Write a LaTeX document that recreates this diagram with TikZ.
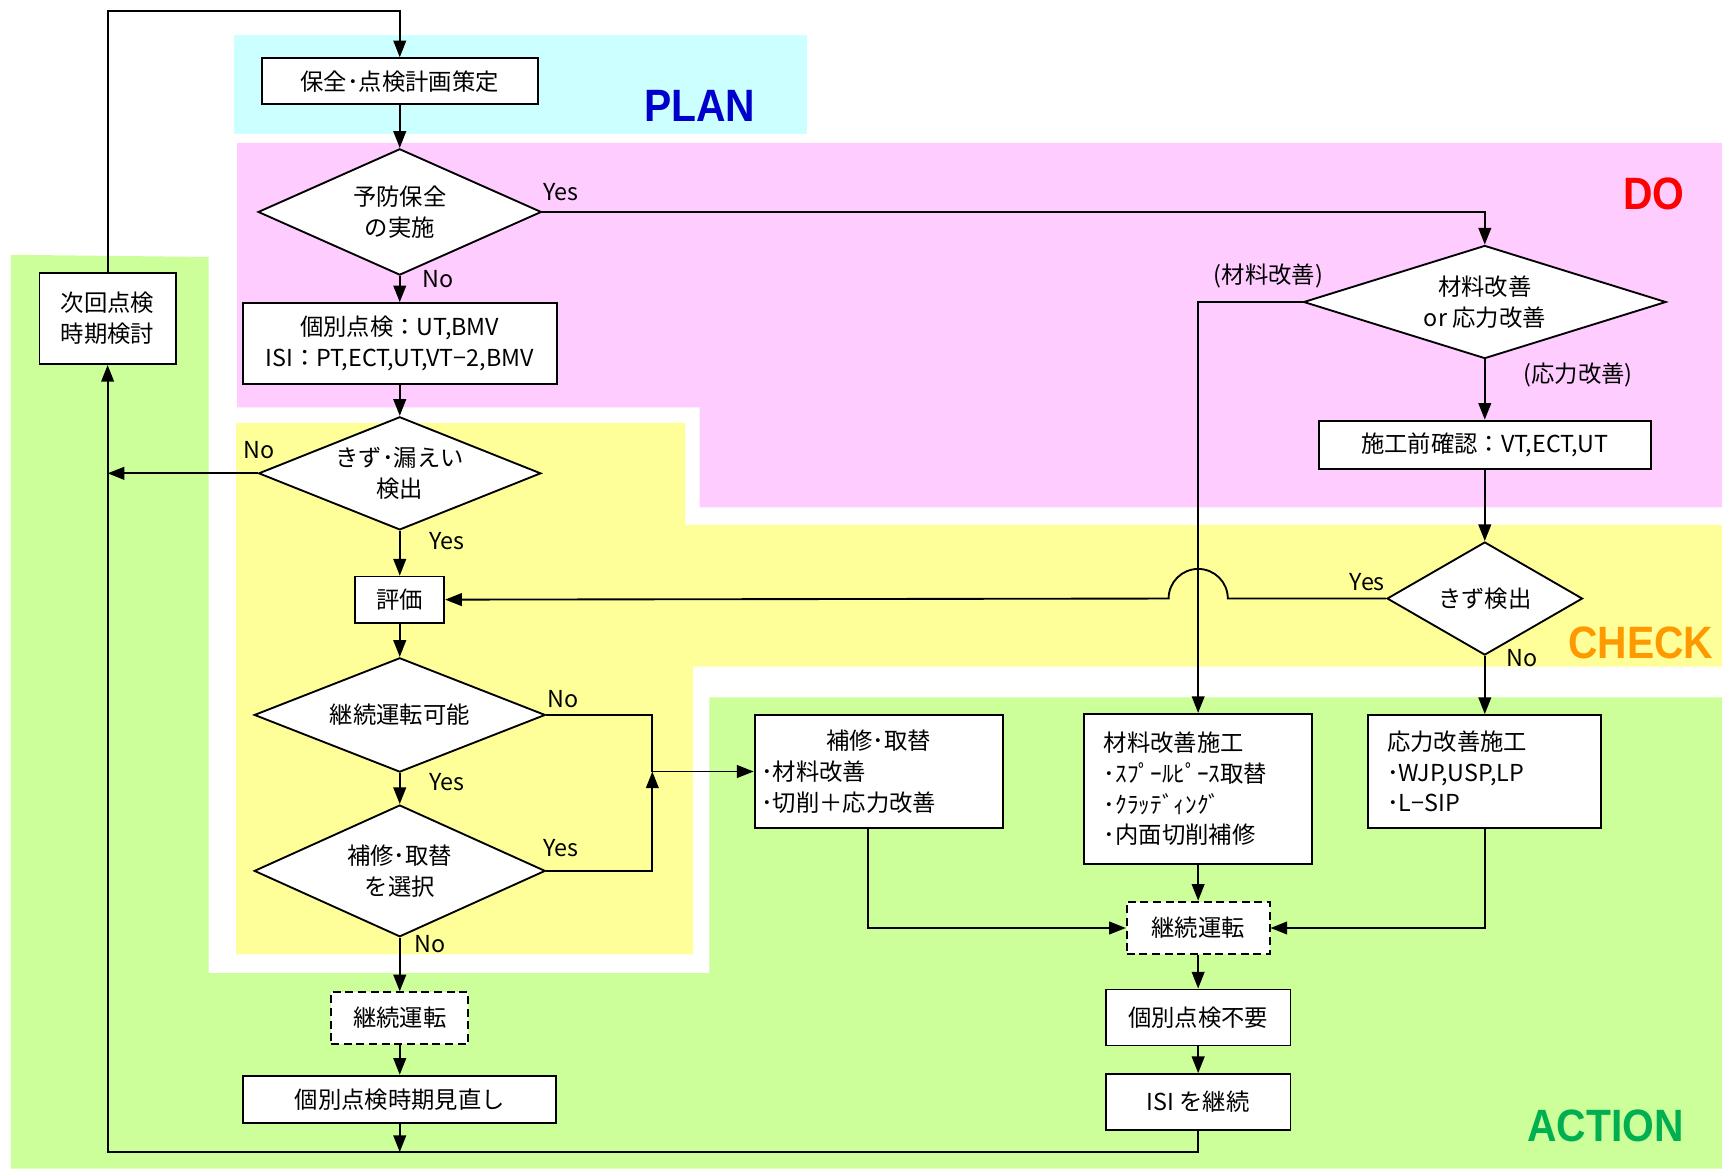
\documentclass[tikz,border=0pt]{standalone}
\usepackage{fontspec}
\setmainfont{Noto Sans CJK JP}
\newfontfamily\tagfont[FakeStretch=0.9]{Liberation Sans Bold}
\usetikzlibrary{arrows.meta,shapes.geometric,calc}

\definecolor{planbg}{HTML}{CCFFFF}
\definecolor{dobg}{HTML}{FFCCFF}
\definecolor{checkbg}{HTML}{FFFF99}
\definecolor{actbg}{HTML}{CCFF99}
\definecolor{plancol}{HTML}{0000CC}
\definecolor{docol}{HTML}{FF0000}
\definecolor{checkcol}{HTML}{FF9900}
\definecolor{actcol}{HTML}{00B050}

\tikzset{
  flow/.style={line width=1.4pt},
  arr/.style={flow,-{Triangle[length=12.5pt,width=9.5pt]}},
  box/.style={draw,line width=1.4pt,fill=white,inner sep=0pt,align=center},
  dbox/.style={box,dash pattern=on 6pt off 3.5pt},
  lbox/.style={box,align=left},
  dec/.style={draw,diamond,line width=1.4pt,fill=white,inner sep=0pt,align=center},
  yn/.style={inner sep=0pt},
  phase/.style={font=\tagfont\fontsize{34}{34}\selectfont,inner sep=0pt},
}

\begin{document}
\begin{tikzpicture}[x=0.8236pt,y=-0.8236pt,font=\fontsize{17.5}{23}\selectfont]
\path[use as bounding box,fill=white] (0,0) rectangle (1568,1064);

% phase areas
\fill[planbg] (213,32) rectangle (735,122);
\fill[dobg] (216,130) -- (1568,130) -- (1568,462) -- (637,462) -- (637,371) -- (216,371) -- cycle;
\fill[checkbg] (215,385) -- (624,385) -- (624,478) -- (1568,478) -- (1568,607) -- (631,607) -- (631,869) -- (215,869) -- cycle;
\fill[actbg] (10,232) -- (190,234) -- (190,886) -- (646,886) -- (646,635) -- (1568,635) -- (1568,1064) -- (10,1064) -- cycle;

\node[phase,text=plancol] (tplan) at (637,96) {PLAN};
\node[phase,text=docol] (tdo) at (1506,177) {DO};
\node[phase,text=checkcol] (tcheck) at (1494,585) {CHECK};
\node[phase,text=actcol] (tact) at (1462,1025) {ACTION};

% left column
\node[box,minimum width=206.7pt,minimum height=34.6pt] (planbox) at (364,74) {保全･点検計画策定};
\node[dec,aspect=2.2,minimum width=212.5pt,minimum height=94.7pt] (d1) at (364,193) {予防保全\\の実施};
\node[box,minimum width=235.5pt,minimum height=60.9pt] (kobetsu) at (364,313) {個別点検：UT,BMV\\ISI：PT,ECT,UT,VT−2,BMV};
\node[dec,aspect=2.5,minimum width=211.7pt,minimum height=84.8pt] (d4) at (364,431) {きず･漏えい\\検出};
\node[box,minimum width=66.7pt,minimum height=34.6pt] (hyouka) at (364,546) {評価};
\node[dec,aspect=3,minimum width=218.3pt,minimum height=85.7pt] (d5) at (364,651) {継続運転可能};
\node[dec,aspect=2.5,minimum width=218.3pt,minimum height=98.8pt] (d6) at (364,793) {補修･取替\\を選択};
\node[dbox,minimum width=103pt,minimum height=38.7pt] (keizoku1) at (364,927) {継続運転};
\node[box,minimum width=234.7pt,minimum height=35.4pt] (minaoshi) at (364,1001) {個別点検時期見直し};
\node[box,minimum width=102.1pt,minimum height=68.4pt] (jikai) at (98,290) {次回点検\\時期検討};

% right column
\node[dec,aspect=3.2,minimum width=271.8pt,minimum height=84.8pt] (d2) at (1352,275) {材料改善\\or 応力改善};
\node[box,minimum width=248.7pt,minimum height=36.2pt] (sekou) at (1352,405) {施工前確認：VT,ECT,UT};
\node[dec,aspect=2,minimum width=146.6pt,minimum height=84.8pt] (d3) at (1352,545) {きず検出};

% action boxes
\node[lbox,text width=176pt,inner xsep=5pt,minimum height=84.8pt] (shuri) at (800,702.5)
  {\makebox[\linewidth]{補修･取替}\\･材料改善\\･切削＋応力改善};
\node[lbox,text width=141.7pt,inner xsep=14.8pt,minimum height=112.8pt] (zairyo) at (1091,718.5)
  {材料改善施工\\･ｽﾌﾟｰﾙﾋﾟｰｽ取替\\･ｸﾗｯﾃﾞｨﾝｸﾞ\\･内面切削補修};
\node[lbox,text width=146.6pt,inner xsep=14pt,minimum height=84.8pt] (ouryoku) at (1352,702.5)
  {応力改善施工\\･WJP,USP,LP\\･L−SIP};
\node[dbox,minimum width=107.1pt,minimum height=39.5pt] (keizoku2) at (1091,845) {継続運転};
\node[box,minimum width=138.4pt,minimum height=42pt] (fuyou) at (1091,926.5) {個別点検不要};
\node[box,minimum width=138.4pt,minimum height=42pt] (isi) at (1091,1003.5) {ISI を継続};

% branch labels
\node[yn] (y1) at (511,175) {Yes};
\node[yn] (n1) at (399,254) {No};
\node[yn] (lzai) at (1155,251) {(材料改善)};
\node[yn] (lou) at (1437,341) {(応力改善)};
\node[yn] (n4) at (236,410) {No};
\node[yn] (y4) at (407,493) {Yes};
\node[yn] (y3) at (1245,530) {Yes};
\node[yn] (n3) at (1386,599) {No};
\node[yn] (n5) at (513,637) {No};
\node[yn] (y5) at (407,712) {Yes};
\node[yn] (y6) at (511,772) {Yes};
\node[yn] (n6) at (392,860) {No};

% routing points
\coordinate (topline) at (0,10);
\coordinate (botline) at (0,1049);
\coordinate (junc) at (594,702.5);

% connectors
\draw[arr] (jikai.north) -- (jikai.north |- topline) -| (planbox.north);
\draw[arr] (planbox.south) -- (d1.north);
\draw[arr] (d1.east) -| (d2.north);
\draw[arr] (d1.south) -- (kobetsu.north);
\draw[arr] (kobetsu.south) -- (d4.north);
\draw[arr] (d4.west) -- (d4.west -| jikai.south);
\draw[arr] (d4.south) -- (hyouka.north);
\draw[arr] (d3.west) -- ($(d3.west -| zairyo.north)+(27,0)$)
  arc[start angle=0,end angle=180,radius=22.2pt] -- (hyouka.east);
\draw[arr] (hyouka.south) -- (d5.north);
\draw[arr] (d5.east) -| (junc) -- (shuri.west);
\draw[arr] (d5.south) -- (d6.north);
\draw[arr] (d6.east) -| (junc);
\draw[arr] (d6.south) -- (keizoku1.north);
\draw[arr] (keizoku1.south) -- (minaoshi.north);
\draw[arr] (minaoshi.south) -- (minaoshi.south |- botline);
\draw[arr] (isi.south) -- (isi.south |- botline) -| (jikai.south);
\draw[arr] (d2.west) -| (zairyo.north);
\draw[arr] (d2.south) -- (sekou.north);
\draw[arr] (sekou.south) -- (d3.north);
\draw[arr] (d3.south) -- (ouryoku.north);
\draw[arr] ($(shuri.south)+(-10,0)$) |- (keizoku2.west);
\draw[arr] (zairyo.south) -- (keizoku2.north);
\draw[arr] (ouryoku.south) |- (keizoku2.east);
\draw[arr] (keizoku2.south) -- (fuyou.north);
\draw[arr] (fuyou.south) -- (isi.north);
\end{tikzpicture}
\end{document}
